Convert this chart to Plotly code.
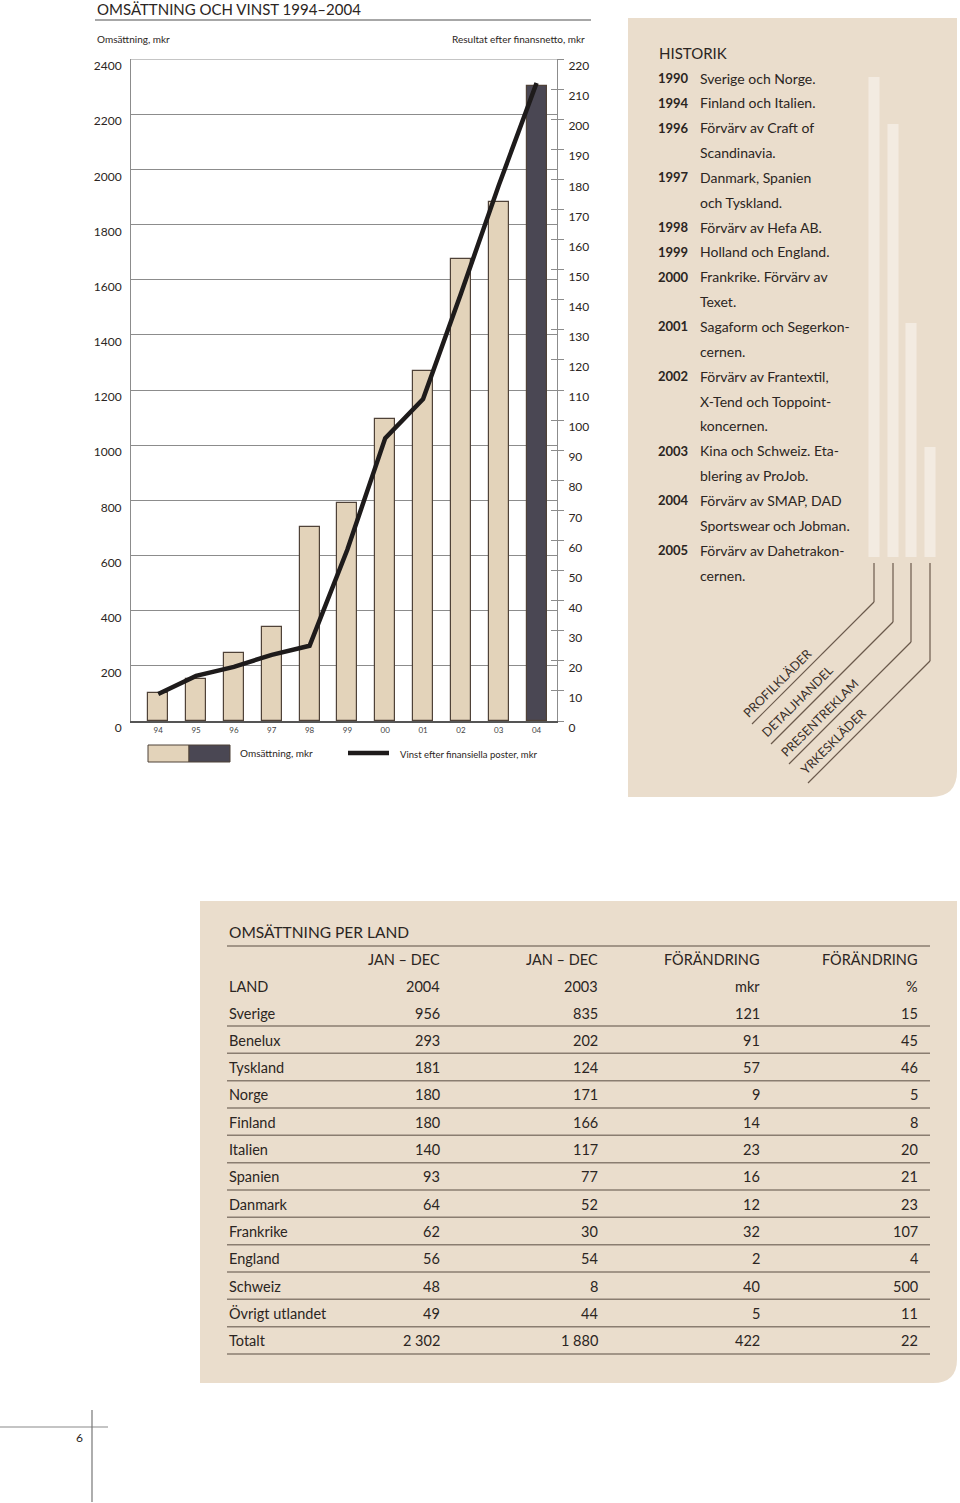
import plotly.graph_objects as go

# ---------------- data ----------------
years = ["94", "95", "96", "97", "98", "99", "00", "01", "02", "03", "04"]
revenue = [100, 152, 245, 340, 703, 790, 1095, 1269, 1675, 1880, 2302]
profit = [9, 15, 18, 22, 25, 57, 94, 107, 142, 178, 212]
left_ticks = list(range(0, 2401, 200))
right_ticks = list(range(0, 221, 10))

history_years = ["1990", "1994", "1996", "1997", "1998", "1999", "2000",
                 "2001", "2002", "2003", "2004", "2005"]
history_text = [
    ["Sverige och Norge."],
    ["Finland och Italien."],
    ["Förvärv av Craft of", "Scandinavia."],
    ["Danmark, Spanien", "och Tyskland."],
    ["Förvärv av Hefa AB."],
    ["Holland och England."],
    ["Frankrike. Förvärv av", "Texet."],
    ["Sagaform och Segerkon-", "cernen."],
    ["Förvärv av Frantextil,", "X-Tend och Toppoint-", "koncernen."],
    ["Kina och Schweiz. Eta-", "blering av ProJob."],
    ["Förvärv av SMAP, DAD", "Sportswear och Jobman."],
    ["Förvärv av Dahetrakon-", "cernen."],
]
business_areas = ["PROFILKLÄDER", "DETALJHANDEL", "PRESENTREKLAM", "YRKESKLÄDER"]

table_header1 = ["", "JAN – DEC", "JAN – DEC", "FÖRÄNDRING", "FÖRÄNDRING"]
table_header2 = ["LAND", "2004", "2003", "mkr", "%"]
countries = ["Sverige", "Benelux", "Tyskland", "Norge", "Finland", "Italien", "Spanien",
             "Danmark", "Frankrike", "England", "Schweiz", "Övrigt utlandet", "Totalt"]
sales_2004 = ["956", "293", "181", "180", "180", "140", "93", "64", "62", "56", "48", "49", "2 302"]
sales_2003 = ["835", "202", "124", "171", "166", "117", "77", "52", "30", "54", "8", "44", "1 880"]
change_mkr = ["121", "91", "57", "9", "14", "23", "16", "12", "32", "2", "40", "5", "422"]
change_pct = ["15", "45", "46", "5", "8", "20", "21", "23", "107", "4", "500", "11", "22"]

# ---------------- styling ----------------
W, H = 960, 1503
FONT = "Lato"
TXT = "#2b2522"
BEIGE = "#e3d3ba"
DARK = "#4a4753"
PANEL = "#eaddcc"
PANEL_LIGHT = "#f3ebe1"
BROWN = "#6b5a4c"
GRID = "#8c8c8c"


def px(x):
    return x / W


def py(y):
    return 1 - y / H


shapes, annotations = [], []


def text(x, y, s, size=12, anchor="left", color=TXT, bold=False, angle=0, family=FONT):
    annotations.append(dict(
        x=px(x), y=py(y), xref="paper", yref="paper", text=("<b>%s</b>" % s) if bold else s,
        showarrow=False, xanchor=anchor, yanchor="middle", textangle=angle,
        font=dict(family=family, size=size, color=color)))


def line(x0, y0, x1, y1, color=GRID, width=1.0, layer="above"):
    shapes.append(dict(type="line", xref="paper", yref="paper", x0=px(x0), y0=py(y0),
                       x1=px(x1), y1=py(y1), line=dict(color=color, width=width), layer=layer))


def rect(x0, y0, x1, y1, fill, lc=None, lw=0, layer="below"):
    shapes.append(dict(type="rect", xref="paper", yref="paper", x0=px(x0), y0=py(y0),
                       x1=px(x1), y1=py(y1), fillcolor=fill,
                       line=dict(color=lc or fill, width=lw), layer=layer))


def rounded_panel(x0, y0, x1, y1, r, fill):
    path = ("M {a},{b} L {c},{b} L {c},{d} Q {c},{e} {f},{e} L {a},{e} Z"
            .format(a=px(x0), b=py(y0), c=px(x1), d=py(y1 - r), e=py(y1), f=px(x1 - r)))
    shapes.append(dict(type="path", xref="paper", yref="paper", path=path,
                       fillcolor=fill, line=dict(width=0), layer="below"))


# ---------------- chart ----------------
fig = go.Figure()
xs = list(range(len(years)))
fig.add_trace(go.Bar(
    x=xs, y=revenue, width=0.53, yaxis="y",
    marker=dict(color=[BEIGE] * (len(years) - 1) + [DARK],
                line=dict(color="#4f4238", width=1.2)),
    showlegend=False, hoverinfo="x+y"))
fig.add_trace(go.Scatter(
    x=xs, y=profit, yaxis="y2", mode="lines",
    line=dict(color="#1e1b1b", width=4.5), showlegend=False))

plot_x = [px(131), px(557)]
plot_y = [py(721), py(59)]

fig.update_layout(
    width=W, height=H, margin=dict(l=0, r=0, t=0, b=0, pad=0, autoexpand=False),
    paper_bgcolor="white", plot_bgcolor="rgba(0,0,0,0)",
    font=dict(family=FONT, color=TXT),
    showlegend=False,
    bargap=0,
    xaxis=dict(domain=plot_x, range=[-0.72, 10.54], tickvals=xs, ticktext=years,
               tickfont=dict(size=8, color="#444"), showgrid=False, zeroline=False,
               showline=True, linecolor="#555", linewidth=1.5, ticks="",
               ticklabelstandoff=1, fixedrange=True, automargin=False),
    yaxis=dict(domain=plot_y, range=[0, 2400], tickvals=left_ticks,
               tickfont=dict(size=12, color=TXT), showgrid=True, gridcolor=GRID,
               gridwidth=1, zeroline=False, showline=True, linecolor=GRID, linewidth=1,
               ticks="", ticklabelshift=7, ticklabelstandoff=6, automargin=False),
    yaxis2=dict(overlaying="y", side="right", range=[0, 220], tickvals=right_ticks,
                tickfont=dict(size=12, color=TXT), showgrid=False, zeroline=False,
                showline=True, linecolor=GRID, linewidth=1, ticks="outside",
                ticklen=6, tickcolor=GRID, ticklabelshift=7, ticklabelstandoff=2,
                automargin=False),
    yaxis3=dict(overlaying="y", side="right", range=[0, 220], tickvals=right_ticks,
                showticklabels=False, showgrid=False, zeroline=False, showline=False,
                ticks="inside", ticklen=6, tickcolor=GRID, automargin=False),
)
# invisible helper trace so the inside-tick axis is drawn
fig.add_trace(go.Scatter(x=[xs[0]], y=[0], yaxis="y3", mode="markers",
                         marker=dict(opacity=0), showlegend=False, hoverinfo="skip"))

# top frame line at the axis maximum
shapes.append(dict(type="line", xref="x domain", yref="y", x0=0, x1=1,
                   y0=left_ticks[-1], y1=left_ticks[-1],
                   line=dict(color=GRID, width=1), layer="below"))

# chart titles
text(95, 9, "OMSÄTTNING OCH VINST 1994–2004", size=15)
line(95, 20, 591, 20, color="#8a8a8a", width=1.5)
text(95, 39, "Omsättning, mkr", size=10)
text(587, 39, "Resultat efter finansnetto, mkr", size=10, anchor="right")

# legend
rect(148, 745, 189, 762, BEIGE, "#4f4238", 1, layer="above")
rect(189, 745, 230, 762, DARK, "#4f4238", 1, layer="above")
text(238, 753, "Omsättning, mkr", size=10)
line(348, 753, 389, 753, color="#1e1b1b", width=4.5)
text(398, 754, "Vinst efter finansiella poster, mkr", size=9.5)

# ---------------- history panel ----------------
rounded_panel(628, 18, 957, 797, 26, PANEL)
text(657, 53, "HISTORIK", size=15)
row_y = 78
for yr, lines in zip(history_years, history_text):
    text(656, row_y, yr, size=13, bold=True)
    for ln in lines:
        text(698, row_y, ln, size=14)
        row_y += 24.85

area_cx = [874, 893, 911, 930]
area_top = [77, 124, 323, 447]
area_turn = [602, 622, 642, 661]
label_pos = [(777, 683), (797, 701), (819, 718), (833, 741)]
for name, cx, top, turn, (lx, ly) in zip(business_areas, area_cx, area_top, area_turn, label_pos):
    rect(cx - 5.5, top, cx + 5.5, 557, PANEL_LIGHT)
    line(cx, 563, cx, turn, color=BROWN, width=1.2)
    line(cx, turn, cx - 122, turn + 122, color=BROWN, width=1.2)
    text(lx, ly, name, size=12.5, anchor="center", angle=-45, color="#3a302a")

# ---------------- table panel ----------------
rounded_panel(200, 901, 957, 1383, 24, PANEL)
text(227, 932, "OMSÄTTNING PER LAND", size=15.5)
line(227, 946, 930, 946, color="#8a7d70", width=1.5)
col_right = [442, 600, 762, 920]


def table_row(y, cells):
    text(227, y, cells[0], size=14.5)
    for c, xr in zip(cells[1:], col_right):
        text(xr, y, c, size=14.5, anchor="right")


table_row(959, table_header1)
table_row(986, table_header2)
y0, step = 1013, 27.33
for i, row in enumerate(zip(countries, sales_2004, sales_2003, change_mkr, change_pct)):
    y = y0 + i * step
    table_row(y, row)
    line(227, y + 13, 930, y + 13, color="#8a7d70", width=1.5)

# ---------------- page marker ----------------
line(0, 1427, 108, 1427, color="#8a8a8a", width=1.2)
line(92, 1410, 92, 1502, color="#777", width=1.2)
text(85, 1437, "6", size=12, anchor="right")

fig.update_layout(shapes=shapes, annotations=annotations)
fig.write_html(
    "out.html",
    config={"displayModeBar": False},
    post_script="document.body.style.margin='0';document.body.style.padding='0';"
                "document.body.style.overflow='hidden';",
)
